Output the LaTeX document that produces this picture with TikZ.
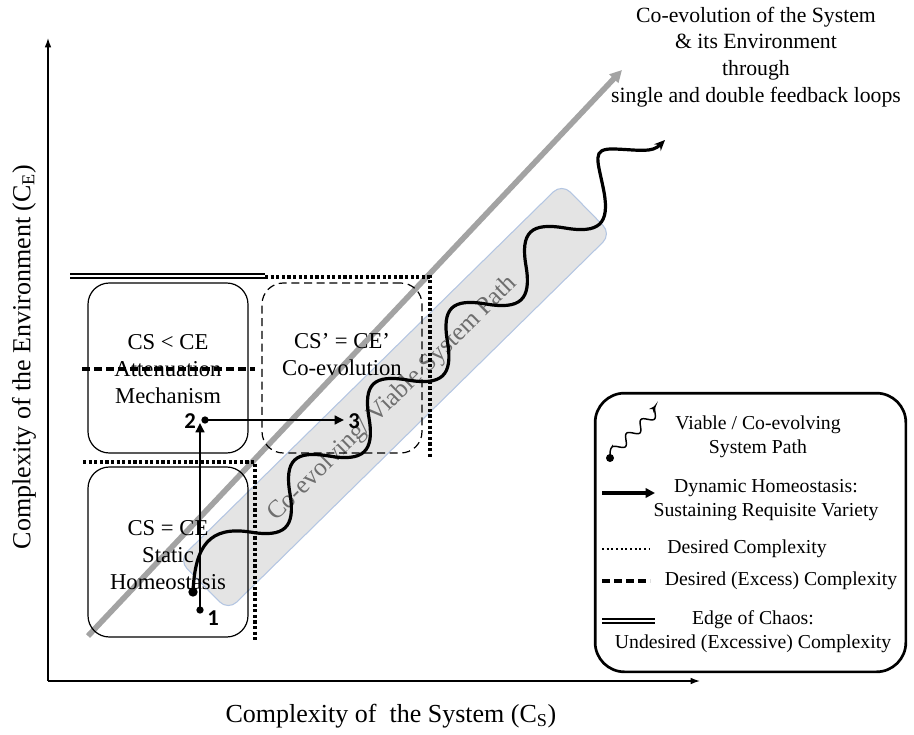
\documentclass[tikz,border=0pt]{standalone}
\usepackage{fontspec}
\setmainfont{Liberation Serif}
\newfontfamily\numfont{Carlito}
\usetikzlibrary{arrows.meta}
\definecolor{arrowgray}{HTML}{A3A3A3}
\definecolor{bandfill}{HTML}{E4E4E4}
\definecolor{bandline}{HTML}{B4C6E2}
\definecolor{bandtext}{HTML}{6E6E6E}
\begin{document}
\begin{tikzpicture}[x=0.75pt,y=-0.75pt,
  axis/.style={line width=1pt,-{Latex[length=7pt,width=5pt]}},
  region/.style={draw,line width=0.9pt,rounded corners=16pt,minimum width=120pt,minimum height=127.5pt,inner sep=0pt},
  dashregion/.style={region,dash pattern=on 6pt off 3.5pt},
  boxtext/.style={font=\fontsize{17}{20.3}\selectfont,align=center,inner sep=0pt},
  dotline/.style={line width=2.8pt,dash pattern=on 2.4pt off 1.8pt},
  dashline/.style={line width=2.5pt,dash pattern=on 6pt off 3pt},
  chaos/.style={double,line width=1.3pt,double distance=2pt},
  homarrow/.style={line width=2pt,-{Triangle[length=7pt,width=6.5pt]}},
  dotpt/.style={circle,fill,inner sep=0pt,minimum size=5.5pt},
  wave/.style={line width=2.4pt,-{Stealth[length=8pt,width=7pt]}},
  numlab/.style={font=\numfont\bfseries\fontsize{17}{17}\selectfont,inner sep=0pt},
  legtext/.style={font=\fontsize{14.8}{18}\selectfont,align=center,inner sep=0pt},
  bigtext/.style={font=\fontsize{19.5}{19.5}\selectfont,inner sep=0pt}]
\useasboundingbox (0,0) rectangle (914,735);

% band
\node[draw=bandline,fill=bandfill,line width=0.8pt,rounded corners=9pt,rotate=44.5,
      minimum width=403pt,minimum height=53pt,inner sep=0pt] (band) at (395,397) {};
\node[rotate=44.5,text=bandtext,font=\fontsize{19}{19}\selectfont,inner sep=0pt] (bandlabel) at (393,399) {Co-evolving/ Viable System Path};

% gray diagonal arrow
\coordinate (gstart) at (88,636);
\coordinate (gend) at (622,70);
\draw[arrowgray,line width=4.2pt,-{Triangle[length=9pt,width=9pt]}] (gstart) -- (gend);

% axes
\coordinate (origin) at (48,681);
\coordinate (ytip) at (48,38);
\coordinate (xtip) at (700,681);
\draw[axis] (origin) -- (ytip);
\draw[axis] (origin) -- (xtip);
\node[bigtext] (xlabel) at (391,716) {Complexity of \ the System (C\textsubscript{S})};
\node[bigtext,rotate=90] (ylabel) at (24,357) {Complexity of the Environment (C\textsubscript{E})};

% top text
\node[font=\fontsize{16.3}{20}\selectfont,align=center,inner sep=0pt] (toptext) at (756,57)
  {Co-evolution of the System\\\& its Environment\\through\\single and double feedback loops};

% regions
\node[region] (attbox) at (168,368) {};
\node[dashregion] (coevbox) at (342,368) {};
\node[region] (statbox) at (168,552) {};
\node[boxtext] (atttext) at (168,369) {CS < CE\\Attenuation\\Mechanism};
\node[boxtext] (coevtext) at (342,355) {CS’ = CE’\\Co-evolution};
\node[boxtext] (stattext) at (168,555) {CS = CE\\Static\\Homeostasis};

% boundary lines
\coordinate (c1) at (70,276);
\coordinate (c2) at (265,276);
\coordinate (c3) at (430,277);
\coordinate (c4) at (430,457);
\coordinate (d1) at (83,462);
\coordinate (d2) at (255,462);
\coordinate (d3) at (255,641);
\coordinate (e1) at (82,369);
\coordinate (e2) at (255,369);
\draw[chaos] (c1) -- (c2);
\draw[dotline] (c2|-c3) -- (c3) -- (c4);
\draw[dotline] (d1) -- (d2) -- (d3);
\draw[dashline] (e1) -- (e2);

% homeostasis steps
\node[dotpt] (p1) at (200,610) {};
\coordinate (p1top) at (200,423);
\node[dotpt] (p2) at (205,420) {};
\coordinate (p3) at (344,420);
\draw[homarrow] (p1.center) -- (p1top);
\draw[homarrow] (p2.center) -- (p3);
\node[numlab] (l1) at (213,618) {1};
\node[numlab] (l2) at (190,421) {2};
\node[numlab] (l3) at (354,421) {3};

% wavy viable path
\node[dotpt,minimum size=7pt] (wstart) at (193,592) {};
\coordinate (wend) at (665,140);
\draw[wave] (wstart.center) .. controls (195,545) and (210,526) .. (250,532)
  .. controls (284,537.8) and (295.8,528) .. (290,494)
  .. controls (284.2,460) and (295,450.2) .. (329,456)
  .. controls (363,461.8) and (374.8,452) .. (369,418)
  .. controls (363.2,384) and (373.5,374.2) .. (407.5,380)
  .. controls (441.5,385.8) and (453.3,376) .. (447.5,342)
  .. controls (441.7,308) and (452,298.2) .. (486,304)
  .. controls (520,309.8) and (531.8,300) .. (526,266)
  .. controls (520.2,232) and (531,222.2) .. (565,228)
  .. controls (599,233.8) and (609.8,224) .. (604,192)
  .. controls (598,160) and (590,148) .. (615,149)
  .. controls (640,150) and (652,153) .. (wend);

% legend
\node[draw,line width=2pt,rounded corners=22pt,minimum width=233pt,minimum height=209pt,inner sep=0pt] (legend) at (750.5,532.5) {};
\node[dotpt,minimum size=6pt] (lwstart) at (610,458) {};
\draw[line width=1.1pt,-{Stealth[length=5pt,width=4.5pt]}] (lwstart.center) .. controls (610,452) and (610,449) .. (612,447)
  -- plot[domain=0:60,samples=90]
     ({615.1+0.725*\x-0.689*4.5*cos(\x*18)},{450.3-0.689*\x-0.725*4.5*cos(\x*18)});
\coordinate (la1) at (602,493); \coordinate (la2) at (655,493);
\draw[line width=2.6pt,-{Triangle[length=7pt,width=7pt]}] (la1) -- (la2);
\coordinate (lb1) at (602,549); \coordinate (lb2) at (650,549);
\draw[line width=1.6pt,dash pattern=on 1.5pt off 2pt] (lb1) -- (lb2);
\coordinate (lc1) at (602,581); \coordinate (lc2) at (650,581);
\draw[dashline] (lc1) -- (lc2);
\coordinate (ld1) at (602,621); \coordinate (ld2) at (655,621);
\draw[chaos] (ld1) -- (ld2);
\node[legtext] (t1) at (758,437) {Viable / Co-evolving\\System Path};
\node[legtext] (t2) at (766,500) {Dynamic Homeostasis:\\Sustaining Requisite Variety};
\node[legtext] (t3) at (747,549) {Desired Complexity};
\node[legtext] (t4) at (781,581) {Desired (Excess) Complexity};
\node[legtext] (t5) at (753,632) {Edge of Chaos:\\Undesired (Excessive) Complexity};
\end{tikzpicture}
\end{document}
